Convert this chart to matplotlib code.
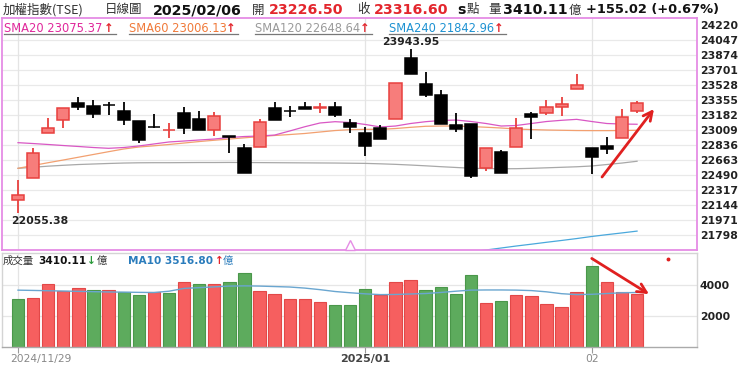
import matplotlib
matplotlib.use("Agg")
import matplotlib.pyplot as plt
import numpy as np
from matplotlib.patches import Rectangle
from matplotlib.lines import Line2D
import matplotlib.transforms as mtransforms

# ---------------- data ----------------
dates = ["2024/11/29",
         "2024/12/02", "2024/12/03", "2024/12/04", "2024/12/05", "2024/12/06",
         "2024/12/09", "2024/12/10", "2024/12/11", "2024/12/12", "2024/12/13",
         "2024/12/16", "2024/12/17", "2024/12/18", "2024/12/19", "2024/12/20",
         "2024/12/23", "2024/12/24", "2024/12/25", "2024/12/26", "2024/12/27",
         "2024/12/30", "2024/12/31",
         "2025/01/02", "2025/01/03", "2025/01/06", "2025/01/07", "2025/01/08",
         "2025/01/09", "2025/01/10", "2025/01/13", "2025/01/14", "2025/01/15",
         "2025/01/16", "2025/01/17", "2025/01/20", "2025/01/21", "2025/01/22",
         "2025/02/03", "2025/02/04", "2025/02/05", "2025/02/06"]

opens = [22200, 22452, 22978, 23124, 23317, 23290, 23299, 23232, 23113, 23049,
         23005, 23209, 23132, 23009, 22940, 22798, 22813, 23266, 23230, 23278,
         23262, 23278, 23093, 22978, 23029, 23136, 23836, 23536, 23413, 23067,
         23075, 22567, 22759, 22817, 23194, 23202, 23271, 23478, 22798, 22824,
         22913, 23226.50]
highs = [22430, 22805, 23144, 23259, 23386, 23355, 23336, 23328, 23113, 23194,
         23093, 23271, 23232, 23213, 22940, 22844, 23136, 23336, 23286, 23328,
         23317, 23336, 23132, 23047, 23072, 23555, 23943.95, 23674, 23470, 23209,
         23075, 22798, 22778, 23151, 23213, 23355, 23386, 23651, 22798, 22932,
         23251, 23347]
lows = [22055.38, 22452, 22978, 23029, 23240, 23144, 23182, 23067, 22863, 23029,
        22913, 22963, 23009, 22940, 22740, 22510, 22813, 23124, 23156, 23248,
        23202, 23163, 22978, 22709, 22905, 23136, 23655, 23393, 23078, 22990,
        22452, 22536, 22510, 22817, 22905, 23182, 23170, 23478, 22498, 22729,
        22913, 23209]
closes = [22262, 22740, 23029, 23259, 23271, 23194, 23295, 23124, 22894, 23045,
          23012, 23036, 23009, 23174, 22925, 22510, 23105, 23124, 23226, 23248,
          23270, 23182, 23040, 22828, 22905, 23555, 23655, 23413, 23078, 23017,
          22482, 22798, 22510, 23029, 23156, 23271, 23305, 23528, 22694, 22785,
          23163, 23316.60]

sma20 = [22863, 22853, 22842, 22830, 22819, 22807, 22798, 22807, 22825, 22848,
         22871, 22882, 22894, 22905, 22923, 22934, 22940, 22951, 22998, 23047,
         23090, 23105, 23096, 23073, 23044, 23055, 23084, 23105, 23119, 23124,
         23107, 23084, 23055, 23061, 23084, 23107, 23121, 23132, 23107, 23084,
         23078, 23075.37]
sma60 = [22567, 22600, 22632, 22663, 22695, 22727, 22759, 22790, 22813, 22827,
         22842, 22859, 22876, 22891, 22905, 22919, 22933, 22946, 22957, 22969,
         22986, 23003, 23013, 23017, 23017, 23026, 23040, 23052, 23055, 23055,
         23049, 23041, 23032, 23021, 23014, 23009, 23006, 23003, 23002, 23002,
         23003, 23006.13]
sma120 = [22567, 22579, 22592, 22602, 22611, 22617, 22623, 22628, 22631, 22632,
          22632, 22633, 22634, 22634, 22635, 22634, 22633, 22632, 22631, 22630,
          22629, 22628, 22626, 22624, 22619, 22613, 22605, 22596, 22586, 22577,
          22568, 22564, 22562, 22563, 22567, 22573, 22579, 22585, 22594, 22611,
          22628, 22648.64]
sma240 = [np.nan] * 30 + [21603, 21625, 21648, 21671, 21692, 21714, 21735,
                          21757, 21781, 21802, 21822, 21842.96]

volumes = [3093, 3157, 4051, 3623, 3815, 3668, 3687, 3559, 3368, 3578,
           3495, 4198, 4090, 4090, 4198, 4773, 3604, 3451, 3067, 3067,
           2901, 2729, 2729, 3770, 3323, 4198, 4326, 3668, 3898, 3451,
           4626, 2812, 2984, 3387, 3259, 2773, 2601, 3578, 5221, 4217,
           3578, 3410.11]
vol_up = ["g", "r", "r", "r", "r", "g", "r", "g", "g", "r",
          "g", "r", "g", "r", "g", "g", "r", "r", "r", "r",
          "r", "g", "g", "g", "r", "r", "r", "g", "g", "g",
          "g", "r", "g", "r", "r", "r", "r", "r", "g", "r",
          "r", "r"]
ma10 = [3668, 3650, 3630, 3610, 3590, 3570, 3550, 3540, 3525, 3515,
        3600, 3780, 3830, 3880, 3930, 3945, 3930, 3900, 3870, 3800,
        3700, 3580, 3500, 3430, 3380, 3390, 3420, 3450, 3520, 3600,
        3670, 3680, 3680, 3670, 3640, 3560, 3440, 3380, 3400, 3450,
        3500, 3516.80]

price_ticks = [24220, 24047, 23874, 23701, 23528, 23355, 23182, 23009,
               22836, 22663, 22490, 22317, 22144, 21971, 21798]
vol_ticks = [2000, 4000]

# ---------------- figure ----------------
W, H = 740, 368
fig = plt.figure(figsize=(W / 100, H / 100), dpi=100)
fig.patch.set_facecolor("white")
CJK = ["Noto Sans CJK TC", "DejaVu Sans"]


def fx(px):
    return px / W


def fy(py):
    return 1 - py / H


axp = fig.add_axes([fx(2), fy(250), (697 - 2) / W, (250 - 18) / H])
axv = fig.add_axes([fx(2), fy(347), (697 - 2) / W, (347 - 253) / H])

n = len(dates)
x = np.arange(n)
XL = (-1.06, 44.97)

# month tick positions
tick_idx, tick_lab = [0], [dates[0]]
for i in range(1, n):
    if dates[i][:7] != dates[i - 1][:7]:
        if dates[i][5:7] == "01":
            tick_idx.append(i); tick_lab.append(dates[i][:7])
        elif dates[i][:4] == dates[i - 1][:4] and dates[i][5:7] == "02":
            tick_idx.append(i); tick_lab.append(dates[i][5:7])

# ---- price panel ----
axp.set_xlim(*XL)
axp.set_ylim(21625, 24301)
for lv in price_ticks[1:]:
    axp.axhline(lv, color="#e9e9e9", lw=0.9, zorder=0)
for ti in tick_idx:
    axp.axvline(ti, color="#e4e4e4", lw=0.9, zorder=0)

axp.plot(x, sma120, color="#a8a8a8", lw=0.9, zorder=2)
axp.plot(x, sma60, color="#f2a070", lw=0.9, zorder=2)
axp.plot(x, sma20, color="#d957c4", lw=0.9, zorder=2)
axp.plot(x, sma240, color="#4aa8dc", lw=0.9, zorder=2)

bw = 0.8
for i in range(n):
    o, h, l, c = opens[i], highs[i], lows[i], closes[i]
    if c >= o:
        face, edge = "#f77d7b", "#e8403e"
    else:
        face, edge = "#000000", "#000000"
    axp.vlines(i, l, h, color=edge, lw=1.3, zorder=3)
    axp.add_patch(Rectangle((i - bw / 2, min(o, c)), bw, max(abs(c - o), 1),
                            facecolor=face, edgecolor=edge, lw=1.1, zorder=4))

axp.text(-0.45, 22055.38 - 40, "22055.38", ha="left", va="top",
         fontsize=7.8, fontweight="bold", color="#222222", zorder=6)
axp.text(26, 23943.95 + 25, "23943.95", ha="center", va="bottom",
         fontsize=7.8, fontweight="bold", color="#222222", zorder=6)

axp.annotate("", xy=(42.12, 23251), xytext=(38.68, 22467),
             arrowprops=dict(arrowstyle="->", color="#e02020", lw=2.0,
                             mutation_scale=16, shrinkA=0, shrinkB=0),
             zorder=7)
axp.plot([22.0], [0.02], marker="^", ms=7, mfc="white", mec="#e58ce5",
         mew=1.0, transform=mtransforms.blended_transform_factory(axp.transData, axp.transAxes),
         clip_on=False, zorder=7)

axp.yaxis.tick_right()
axp.set_yticks(price_ticks)
axp.set_yticklabels([str(v) for v in price_ticks])
axp.tick_params(axis="y", length=0, pad=2, labelsize=7.8, labelcolor="#222222")
for lab in axp.get_yticklabels():
    lab.set_fontweight("bold")
axp.set_xticks([])
for s in axp.spines.values():
    s.set_color("#e58ce5")
    s.set_linewidth(1.3)

# ---- volume panel ----
axv.set_xlim(*XL)
axv.set_ylim(0, 6065)
for lv in vol_ticks:
    axv.axhline(lv, color="#e6e6e6", lw=0.9, zorder=0)
for ti in tick_idx:
    axv.axvline(ti, color="#e4e4e4", lw=0.9, zorder=0)
vcol = {"r": ("#f65f5f", "#e24848"), "g": ("#5dab5d", "#4a974a")}
axv.bar(x, volumes, width=0.82,
        color=[vcol[k][0] for k in vol_up],
        edgecolor=[vcol[k][1] for k in vol_up], lw=0.8, zorder=2)
axv.plot(x, ma10, color="#6aa6d0", lw=1.0, zorder=3)
axv.annotate("", xy=(41.79, 3412), xytext=(38.0, 5713),
             arrowprops=dict(arrowstyle="->", color="#e02020", lw=2.0,
                             mutation_scale=16, shrinkA=0, shrinkB=0),
             zorder=7)
axv.plot([43.05], [5669], marker="o", ms=1.8, color="#e02020", zorder=7)

axv.yaxis.tick_right()
axv.set_yticks(vol_ticks)
axv.set_yticklabels([str(v) for v in vol_ticks])
axv.tick_params(axis="y", length=0, pad=2, labelsize=7.8, labelcolor="#222222")
for lab in axv.get_yticklabels():
    lab.set_fontweight("bold")
axv.set_xticks(tick_idx)
axv.set_xticklabels([""] * len(tick_idx))
axv.tick_params(axis="x", length=4, color="#999999")
for s in axv.spines.values():
    s.set_color("#d4d4d4")
    s.set_linewidth(1.0)
axv.spines["bottom"].set_color("#aaaaaa")

bt = mtransforms.blended_transform_factory(axv.transData, fig.transFigure)
for k, (ti, lab) in enumerate(zip(tick_idx, tick_lab)):
    if k == 0:
        fig.text(fx(10), fy(359), lab, ha="left", va="center", fontsize=7.7,
                 color="#888888")
    elif len(lab) > 2:
        axv.text(ti, fy(359), lab, ha="center", va="center", fontsize=8.0,
                 fontweight="bold", color="#444444", transform=bt)
    else:
        axv.text(ti, fy(359), lab, ha="center", va="center", fontsize=7.7,
                 color="#888888", transform=bt)

# ---- header ----
hy = fy(10)
NUM = dict(fontweight="bold", fontsize=10.2)
hdr = [
    (3, "加權指數(TSE)", dict(fontsize=9, family=CJK, color="#333333")),
    (105, "日線圖", dict(fontsize=9, family=CJK, color="#333333")),
    (153, "2025/02/06", dict(color="#111111", **NUM)),
    (252, "開", dict(fontsize=9, family=CJK, color="#333333")),
    (269, "23226.50", dict(color="#e3262d", **NUM)),
    (357, "收", dict(fontsize=9, family=CJK, color="#333333")),
    (374, "23316.60", dict(color="#e3262d", **NUM)),
    (457, "s", dict(color="#111111", **NUM)),
    (467, "點", dict(fontsize=9, family=CJK, color="#333333")),
    (488, "量", dict(fontsize=9, family=CJK, color="#333333")),
    (503, "3410.11", dict(color="#111111", **NUM)),
    (569, "億", dict(fontsize=9, family=CJK, color="#333333")),
    (586, "+155.02 (+0.67%)", dict(color="#111111", fontweight="bold", fontsize=9.4)),
]
for px, s, kw in hdr:
    fig.text(fx(px), hy, s, ha="left", va="center", **kw)

# ---- MA legend ----
leg = [
    (4, 116, "SMA20 23075.37", "#e0279b"),
    (129, 238, "SMA60 23006.13", "#f07a3a"),
    (255, 372, "SMA120 22648.64", "#9a9a9a"),
    (389, 506, "SMA240 21842.96", "#1e92d2"),
]
for x0, x1, s, col in leg:
    fig.text(fx(x0), fy(28), s, ha="left", va="center", fontsize=8.3,
             color=col)
    fig.text(fx(x1 - 7), fy(28), "↑", ha="center", va="center", fontsize=8.3,
             fontweight="bold", color="#e3262d")
    fig.add_artist(Line2D([fx(x0), fx(x1)], [fy(33.5), fy(33.5)],
                          color="#777777", lw=0.9))

# ---- volume legend ----
vy = fy(261)
fig.text(fx(3), vy, "成交量", ha="left", va="center", fontsize=7.5, family=CJK,
         color="#333333")
fig.text(fx(38), vy, "3410.11", ha="left", va="center", fontsize=7.6,
         fontweight="bold", color="#111111")
fig.text(fx(91), vy, "↓", ha="center", va="center", fontsize=7.6,
         fontweight="bold", color="#2a9a3a")
fig.text(fx(97), vy, "億", ha="left", va="center", fontsize=7.5, family=CJK,
         color="#333333")
fig.text(fx(128), vy, "MA10 3516.80", ha="left", va="center", fontsize=7.6,
         fontweight="bold", color="#2a7cbc")
fig.text(fx(219), vy, "↑", ha="center", va="center", fontsize=7.6,
         fontweight="bold", color="#e3262d")
fig.text(fx(223), vy, "億", ha="left", va="center", fontsize=7.5, family=CJK,
         color="#2a7cbc")

fig.savefig("out.png", dpi=100, facecolor="white")
